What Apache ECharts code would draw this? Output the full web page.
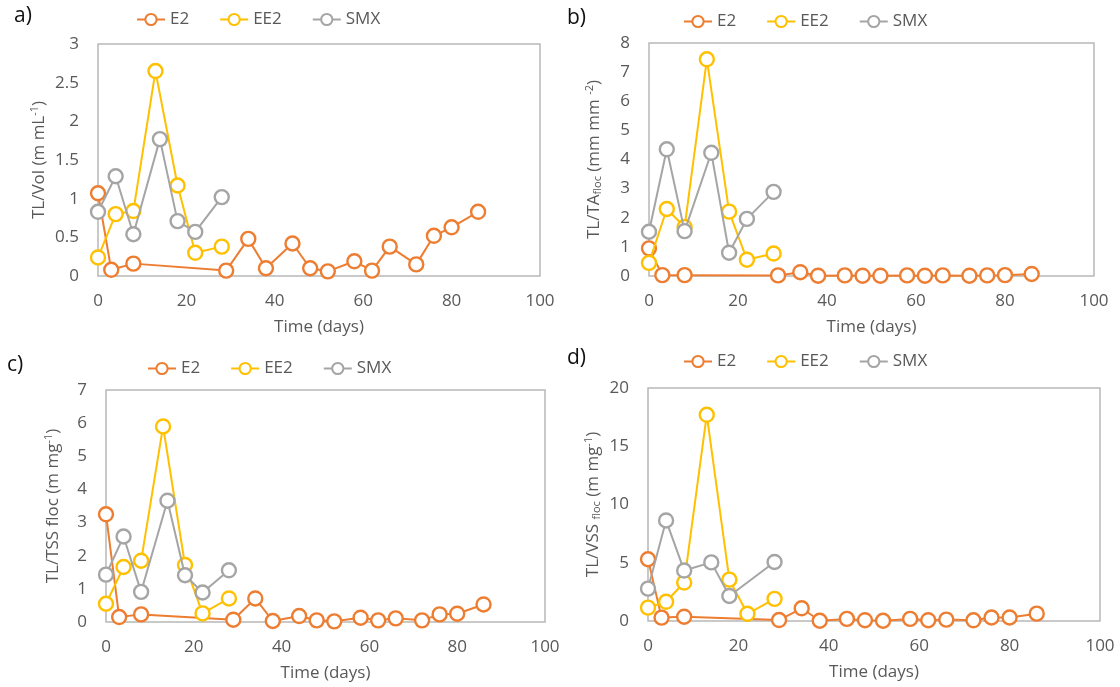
<!DOCTYPE html>
<html>
<head>
<meta charset="utf-8">
<script src="https://cdn.jsdelivr.net/npm/echarts@6/dist/echarts.min.js"></script>
<style>
html,body{margin:0;padding:0;background:#fff;}
#c{width:1120px;height:687px;}
</style>
</head>
<body>
<div id="c"></div>
<script>
// ---- data ----
const seriesNames = ['E2', 'EE2', 'SMX'];
const daysE2 = [0, 3, 8, 29, 34, 38, 44, 48, 52, 58, 62, 66, 72, 76, 80, 86];
const daysEE2 = [0, 4, 8, 13, 18, 22, 28];
const daysSMX = [0, 4, 8, 14, 18, 22, 28];
const daysSMXd = [0, 4, 8, 14, 18, 28];

// a) TL/Vol
const volE2 = [1.07, 0.08, 0.16, 0.07, 0.48, 0.10, 0.42, 0.10, 0.06, 0.19, 0.07, 0.38, 0.15, 0.52, 0.63, 0.83];
const volEE2 = [0.24, 0.80, 0.84, 2.65, 1.17, 0.30, 0.38];
const volSMX = [0.83, 1.29, 0.54, 1.77, 0.71, 0.57, 1.02];
// b) TL/TA floc
const taE2 = [0.95, 0.03, 0.03, 0.02, 0.13, 0.01, 0.02, 0.01, 0.01, 0.02, 0.01, 0.02, 0.01, 0.02, 0.03, 0.07];
const taEE2 = [0.45, 2.30, 1.68, 7.44, 2.21, 0.56, 0.77];
const taSMX = [1.52, 4.35, 1.54, 4.23, 0.80, 1.96, 2.89];
// c) TL/TSS floc
const tssE2 = [3.25, 0.15, 0.23, 0.07, 0.71, 0.03, 0.18, 0.05, 0.02, 0.13, 0.05, 0.11, 0.05, 0.23, 0.25, 0.53];
const tssEE2 = [0.55, 1.66, 1.85, 5.90, 1.72, 0.26, 0.71];
const tssSMX = [1.43, 2.58, 0.91, 3.66, 1.41, 0.89, 1.56];
// d) TL/VSS floc
const vssE2 = [5.3, 0.29, 0.37, 0.08, 1.09, 0.02, 0.18, 0.07, 0.02, 0.18, 0.07, 0.12, 0.06, 0.30, 0.30, 0.63];
const vssEE2 = [1.15, 1.65, 3.30, 17.7, 3.55, 0.62, 1.90];
const vssSMX = [2.78, 8.63, 4.33, 5.03, 2.15, 5.07];

// axis ticks
const xTicks = {min: 0, max: 100, interval: 20};
const yTicksA = {min: 0, max: 3, interval: 0.5};
const yTicksB = {min: 0, max: 8, interval: 1};
const yTicksC = {min: 0, max: 7, interval: 1};
const yTicksD = {min: 0, max: 20, interval: 5};

const panelLabels = ['a)', 'b)', 'c)', 'd)'];
const yTitles = [
  '{n|TL/Vol (m mL}{sup|-1}{n|)}',
  '{n|TL/TA}{sub|floc}{n| (mm mm }{sup|-2}{n|)}',
  '{n|TL/TSS floc (m mg}{sup|-1}{n|)}',
  '{n|TL/VSS }{sub|floc}{n| (m mg}{sup|-1}{n|)}'
];
const xTitle = 'Time (days)';

// ---- layout / style ----
const colors = ['#ED7D31', '#FFC000', '#A5A5A5'];
const FONT = 'Open Sans';
const FS = 17;
const txt = '#595959';
const grids = [
  {left: 98, top: 44, width: 442, height: 232},
  {left: 649, top: 43, width: 445, height: 233},
  {left: 106, top: 390, width: 439, height: 232},
  {left: 648, top: 388, width: 452, height: 233}
];
const yNameGaps = [49, 45, 43, 45];
const legendPos = [
  {left: 136, top: 11},
  {left: 683, top: 13},
  {left: 147, top: 360},
  {left: 683, top: 353}
];
const labelPos = [[14, 19], [567, 21], [7, 368], [567, 361]];
const yTicks = [yTicksA, yTicksB, yTicksC, yTicksD];

const panelData = [
  [[daysE2, volE2], [daysEE2, volEE2], [daysSMX, volSMX]],
  [[daysE2, taE2], [daysEE2, taEE2], [daysSMX, taSMX]],
  [[daysE2, tssE2], [daysEE2, tssEE2], [daysSMX, tssSMX]],
  [[daysE2, vssE2], [daysEE2, vssEE2], [daysSMXd, vssSMX]]
];

const pair = (xs, ys) => xs.map((x, i) => [x, ys[i]]);

const option = {
  animation: false,
  backgroundColor: '#fff',
  textStyle: {fontFamily: FONT},
  grid: grids.map(g => Object.assign({show: true, borderColor: '#B8B8B8', borderWidth: 1.5, backgroundColor: 'transparent'}, g)),
  xAxis: grids.map((g, i) => ({
    type: 'value', gridIndex: i, min: xTicks.min, max: xTicks.max, interval: xTicks.interval,
    name: xTitle, nameLocation: 'middle', nameGap: 43,
    nameTextStyle: {fontSize: FS, color: txt, fontFamily: FONT},
    axisLine: {show: false}, axisTick: {show: false}, splitLine: {show: false},
    axisLabel: {fontSize: FS, color: txt, margin: 17, fontFamily: FONT}
  })),
  yAxis: grids.map((g, i) => ({
    type: 'value', gridIndex: i, min: yTicks[i].min, max: yTicks[i].max, interval: yTicks[i].interval,
    name: yTitles[i], nameLocation: 'middle', nameRotate: 90, nameGap: yNameGaps[i],
    nameTextStyle: {
      fontSize: FS, color: txt, fontFamily: FONT,
      rich: {
        n: {fontSize: FS, color: txt, fontFamily: FONT},
        sup: {fontSize: 11, color: txt, fontFamily: FONT, padding: [0, 0, 9, 0]},
        sub: {fontSize: 11, color: txt, fontFamily: FONT, padding: [8, 0, 0, 0]}
      }
    },
    axisLine: {show: false}, axisTick: {show: false}, splitLine: {show: false},
    axisLabel: {fontSize: FS, color: txt, margin: 19, fontFamily: FONT}
  })),
  legend: legendPos.map(p => ({
    left: p.left, top: p.top, orient: 'horizontal', padding: 0,
    data: seriesNames, itemWidth: 28, itemHeight: 14, itemGap: 30,
    textStyle: {fontSize: FS, color: txt, fontFamily: FONT},
    selectedMode: false
  })),
  graphic: panelLabels.map((t, i) => ({
    type: 'text', left: labelPos[i][0], top: labelPos[i][1] - 13,
    style: {text: t, fontSize: 21, fill: '#111', fontFamily: FONT}
  })),
  series: []
};

panelData.forEach((pd, gi) => {
  pd.forEach((s, si) => {
    option.series.push({
      type: 'line', name: seriesNames[si], xAxisIndex: gi, yAxisIndex: gi,
      data: pair(s[0], s[1]),
      symbol: 'circle', symbolSize: 14, showSymbol: true,
      lineStyle: {color: colors[si], width: 2},
      itemStyle: {color: '#fff', borderColor: colors[si], borderWidth: 2.4},
      z: 2 + si
    });
  });
});

const chart = echarts.init(document.getElementById('c'), null, {renderer: 'canvas'});
chart.setOption(option);
</script>
</body>
</html>
